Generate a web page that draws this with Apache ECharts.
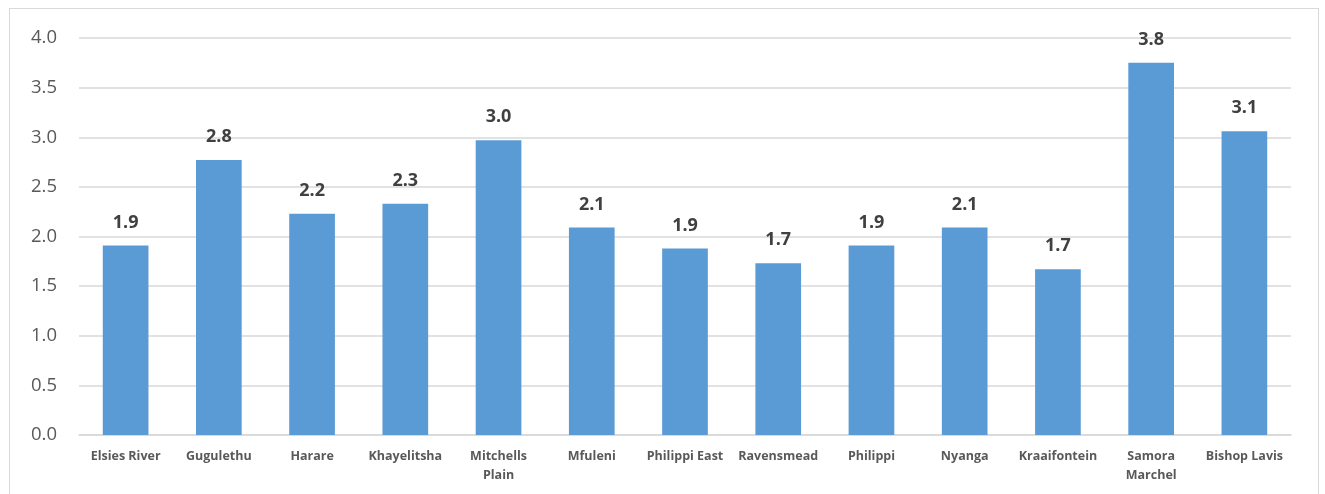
<!DOCTYPE html>
<html>
<head>
<meta charset="utf-8">
<script src="https://cdn.jsdelivr.net/npm/echarts@6/dist/echarts.min.js"></script>
<style>
  html, body { margin: 0; padding: 0; background: #fff; }
  #frame { position: absolute; left: 9px; top: 8px; width: 1310px; height: 500px; border: 1px solid #d9d9d9; box-sizing: border-box; }
  #chart { position: absolute; left: 0; top: 0; width: 1325px; height: 494px; }
</style>
</head>
<body>
<div id="frame"></div>
<div id="chart"></div>
<script>
// Areas along the x axis
const categories = [
  'Elsies River', 'Gugulethu', 'Harare', 'Khayelitsha', 'Mitchells\nPlain',
  'Mfuleni', 'Philippi East', 'Ravensmead', 'Philippi', 'Nyanga',
  'Kraaifontein', 'Samora\nMarchel', 'Bishop Lavis'
]
// Values
const values = [1.91, 2.77, 2.23, 2.33, 2.97, 2.09, 1.88, 1.73, 1.91, 2.09, 1.67, 3.75, 3.06]

const chart = echarts.init(document.getElementById('chart'))

chart.setOption({
  animation: false,
  grid: { left: 79, right: 34, top: 38, bottom: 59 },
  xAxis: {
    type: 'category',
    data: categories,
    axisLine: { lineStyle: { color: '#d9d9d9', width: 1.5 } },
    axisTick: { show: false },
    axisLabel: {
      interval: 0,
      color: '#595959',
      fontFamily: 'Open Sans',
      fontWeight: 'bold',
      fontSize: 12.5,
      lineHeight: 19,
      margin: 12,
    },
  },
  yAxis: {
    type: 'value',
    min: 0,
    max: 4,
    interval: 0.5,
    axisLine: { show: false },
    axisTick: { show: false },
    splitLine: { lineStyle: { color: '#d9d9d9', width: 1.5 } },
    axisLabel: {
      color: '#595959',
      fontFamily: 'Open Sans',
      fontSize: 18.5,
      margin: 22,
      formatter: (v) => v.toFixed(1),
    },
  },
  series: [
    {
      type: 'bar',
      data: values,
      barWidth: '49%',
      itemStyle: { color: '#5b9bd5' },
      label: {
        show: true,
        position: 'top',
        distance: 14,
        color: '#404040',
        fontFamily: 'Open Sans',
        fontWeight: 'bold',
        fontSize: 18,
        formatter: (p) => p.value.toFixed(1),
      },
    },
  ],
})
</script>
</body>
</html>
